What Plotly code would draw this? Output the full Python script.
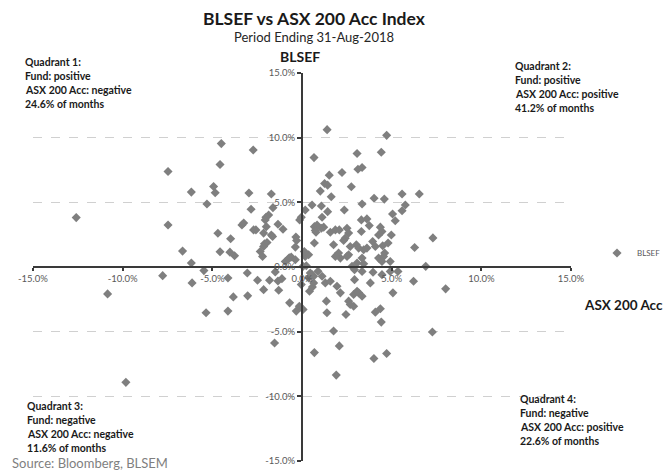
import plotly.graph_objects as go

# ---------------- data (monthly returns, %) ----------------
asx_200_acc = [
    # quadrant 2
    1.40, 4.72, 0.67, 3.07, 4.42, 1.52, 2.23, 3.12, 3.35, 1.26,
    1.43, 1.02, 1.63, 2.75, 0.56, 1.08, 0.18, 1.12, 1.43, 2.36,
    3.35, 4.02, 4.59, 5.58, 6.54, 5.76, 5.58, 5.05, 5.20, 3.31,
    3.62, 3.75, 0.69, 0.78, 1.21, 1.58, 1.86, 2.08, 2.51, 2.60,
    2.41, 2.32, 3.31, 4.37, 4.46, 4.27, 4.98, 0.69, 1.76, 2.04,
    2.14, 1.86, 2.60, 3.03, 3.16, 3.44, 3.62, 3.94, 4.09, 4.50,
    4.80, 4.27, 4.61, 3.35, 3.07, 3.44, 6.28, 7.30, 6.90, 0.18,
    0.37, 4.55, 4.46, 4.92, 2.79, 2.69, 2.51, 0.84, 0.13, 0.06,
    0.24, 1.08, 0.74,
    # quadrant 1
    -7.47, -6.17, -12.59, -7.47, -6.66, -6.17, -4.50, -2.72, -4.57, -4.93,
    -4.84, -2.96, -5.30, -1.71, -1.62, -2.84, -1.86, -2.01, -2.05, -3.35,
    -3.25, -2.70, -2.57, -1.99, -1.34, -1.06, -4.69, -3.98, -2.14, -1.71,
    -1.64, -2.09, -1.95, -2.14, -0.34, -0.30, -0.37, -4.57, -4.02, -3.76,
    -2.33, -2.20, -0.71, -0.93, -0.60, -0.04, -0.13, -0.75, -0.37,
    # quadrant 3
    -7.77, -6.13, -10.84, -9.82, -5.47, -4.13, -3.05, -2.48, -1.81, -1.34,
    -1.12, -1.49, -3.83, -3.03, -5.35, -4.13, -2.14, -1.30, -0.69, -0.32,
    -0.15, -1.53, -0.04,
    # quadrant 4
    0.06, 0.42, 0.58, 0.46, 0.65, 0.89, 1.12, 0.65, 0.69, 1.36,
    1.39, 1.76, 1.91, 2.08, 1.30, 1.58, 1.95, 2.14, 2.93, 2.93,
    3.35, 3.96, 3.81, 4.46, 4.92, 5.35, 6.22, 2.88, 3.16, 3.35,
    3.07, 2.60, 2.69, 2.88, 2.45, 4.09, 4.37, 4.42, 5.07, 4.01,
    4.72, 8.01, 7.27, 0.37, 0.56,
]

blsef = [
    # quadrant 2
    10.62, 10.18, 8.46, 8.77, 8.87, 7.10, 7.31, 7.56, 7.69, 6.46,
    6.33, 5.87, 5.43, 6.20, 4.79, 4.72, 4.41, 3.85, 4.28, 4.41,
    4.87, 5.31, 5.25, 5.64, 5.64, 4.79, 4.35, 4.10, 3.58, 3.64,
    3.72, 3.20, 3.12, 2.69, 3.08, 2.69, 2.87, 2.87, 3.00, 2.62,
    2.23, 2.05, 2.74, 3.08, 2.74, 2.48, 2.48, 1.85, 1.72, 1.08,
    0.69, 0.82, 0.95, 1.72, 1.46, 1.33, 1.46, 1.97, 1.58, 1.64,
    1.85, 0.69, 1.08, 0.69, 0.31, 0.25, 1.51, 2.25, 0.05, 0.82,
    0.95, 0.82, 0.43, 0.43, 0.05, 1.58, 0.82, 3.25, 1.20, 0.05,
    0.10, 3.00, 2.82,
    # quadrant 1
    7.38, 5.79, 3.82, 3.25, 1.23, 0.31, 9.54, 9.05, 7.92, 6.23,
    5.74, 5.72, 4.87, 5.64, 4.59, 4.46, 4.02, 3.85, 3.64, 3.25,
    3.40, 2.87, 2.87, 3.12, 3.31, 2.92, 2.61, 2.18, 2.62, 2.48,
    2.36, 1.79, 1.89, 1.58, 2.31, 2.05, 1.54, 1.18, 1.15, 0.87,
    1.20, 0.82, 0.72, 0.43, 0.77, 3.85, 3.64, 0.62, 0.56,
    # quadrant 3
    -0.67, -1.23, -2.08, -8.92, -0.28, -0.85, -0.46, -1.03, -1.03, -1.08,
    -0.90, -0.38, -2.31, -2.23, -3.54, -3.41, -1.75, -1.80, -2.77, -3.41,
    -3.03, -5.88, -1.36,
    # quadrant 4
    -3.28, -1.87, -1.55, -0.46, -0.72, -0.33, -0.72, -1.23, -6.62, -2.64,
    -3.54, -4.95, -8.36, -6.10, -1.23, -1.10, -1.49, -2.00, -0.98, -0.21,
    -0.34, -0.41, -1.23, -0.59, -0.34, -0.34, -1.10, -2.13, -2.00, -2.26,
    -1.87, -2.64, -2.90, -3.03, -3.67, -3.49, -3.23, -4.26, -2.00, -7.08,
    -6.69, -1.69, -5.03, -0.85, -0.59,
]

axis_tick_vals = [-15, -10, -5, 0, 5, 10, 15]
axis_tick_text = ["-15.0%", "-10.0%", "-5.0%", "0.0%", "5.0%", "10.0%", "15.0%"]

title_text = "BLSEF vs ASX 200 Acc Index"
subtitle_text = "Period Ending 31-Aug-2018"
series_name = "BLSEF"
x_title = "ASX 200 Acc"
y_title = "BLSEF"
source_text = "Source: Bloomberg, BLSEM"

q1_lines = ["Quadrant 1:", "Fund: positive", "ASX 200 Acc: negative", "24.6% of months"]
q2_lines = ["Quadrant 2:", "Fund: positive", "ASX 200 Acc: positive", "41.2% of months"]
q3_lines = ["Quadrant 3:", "Fund: negative", "ASX 200 Acc: negative", "11.6% of months"]
q4_lines = ["Quadrant 4:", "Fund: negative", "ASX 200 Acc: positive", "22.6% of months"]

# ---------------- layout geometry ----------------
W, H = 669, 473
ML, MR, MT, MB = 33, 98, 73, 12
PW, PH = W - ML - MR, H - MT - MB
FONT = "Lato, Carlito, Calibri, sans-serif"
AX_COLOR = "#3a3a3a"
GRAY_TXT = "#595959"


def px(x):
    return (x - ML) / PW


def py(y):
    return (H - MB - y) / PH


fig = go.Figure()
fig.add_trace(go.Scatter(
    x=asx_200_acc, y=blsef, mode="markers", name=series_name,
    marker=dict(symbol="diamond", size=7, color="#7f7f7f", line=dict(width=0)),
))

common_axis = dict(
    range=[-15, 15], tickmode="array", tickvals=axis_tick_vals, ticktext=axis_tick_text,
    anchor="free", position=0.5, showline=True, linecolor=AX_COLOR, linewidth=2,
    ticks="outside", tickwidth=1.5, tickcolor=AX_COLOR,
    zeroline=False, tickfont=dict(family=FONT, size=9.5, color=GRAY_TXT),
)

fig.update_layout(
    width=W, height=H, margin=dict(l=ML, r=MR, t=MT, b=MB, autoexpand=False),
    paper_bgcolor="white", plot_bgcolor="white",
    font=dict(family=FONT, color="#262626"),
    xaxis=dict(common_axis, showgrid=False, ticklen=3),
    yaxis=dict(common_axis, showgrid=True, ticklen=4, gridcolor="#d0d0d0", griddash="dash", gridwidth=1),
    showlegend=True,
    legend=dict(x=px(597), y=py(253), xanchor="left", yanchor="middle",
                font=dict(family=FONT, size=8, color=GRAY_TXT), bgcolor="rgba(0,0,0,0)"),
)

# white boxes behind the notes (they hide the grid under the text boxes)
boxes = [(12, 52, 165, 114), (505, 56, 640, 116), (12, 392, 150, 456), (508, 388, 645, 470), (0, 455, 245, 473)]
for x0, y0, x1, y1 in boxes:
    fig.add_shape(type="rect", xref="paper", yref="paper", x0=px(x0), x1=px(x1), y0=py(y1), y1=py(y0),
                  fillcolor="white", line=dict(width=0), layer="between")

ann = []
ann.append(dict(text="<b>" + title_text + "</b>", x=px(314), y=py(18), font=dict(size=17.5, color="#1a1a1a")))
ann.append(dict(text=subtitle_text, x=px(314), y=py(37), font=dict(size=13, color="#262626")))
ann.append(dict(text="<b>" + y_title + "</b>", x=px(300), y=py(57), font=dict(size=14, color="#1a1a1a")))
ann.append(dict(text="<b>" + x_title + "</b>", x=px(582), y=py(305), xanchor="left", font=dict(size=13.5, color="#1a1a1a")))
ann.append(dict(text=source_text, x=px(10), y=py(463), xanchor="left", font=dict(size=13, color="#7f7f7f")))

for lines, (lx, ly) in [(q1_lines, (23, 62)), (q2_lines, (513, 66)), (q3_lines, (25, 406)), (q4_lines, (518, 399))]:
    for i, t in enumerate(lines):
        ann.append(dict(text="<b>" + t + "</b>", x=px(lx), y=py(ly + 14 * i), xanchor="left",
                        font=dict(size=10.5, color="#1a1a1a")))

for a in ann:
    a.setdefault("xanchor", "center")
    a.update(xref="paper", yref="paper", yanchor="middle", showarrow=False)
    fig.add_annotation(**a)

fig.write_html("out.html", config={"displayModeBar": False},
               post_script="document.body.style.margin='0';")
